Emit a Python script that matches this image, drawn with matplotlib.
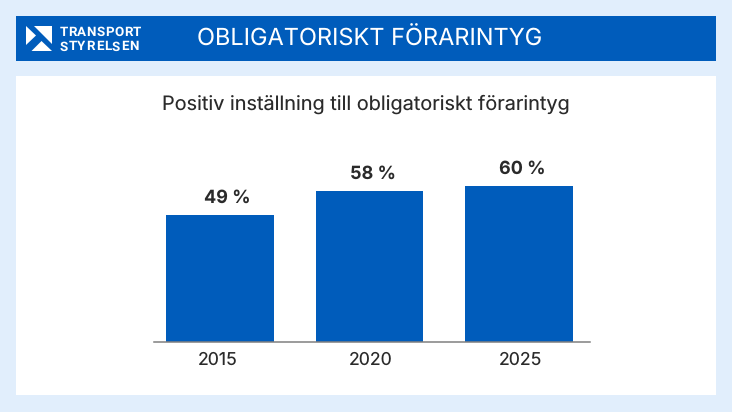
import matplotlib
matplotlib.use("Agg")
import matplotlib.pyplot as plt
from matplotlib.patches import Rectangle, Polygon
from matplotlib.transforms import ScaledTranslation

years = ["2015", "2020", "2025"]
values = [49, 58, 60]
value_labels = ["49 %", "58 %", "60 %"]
title = "OBLIGATORISKT FÖRARINTYG"
subtitle = "Positiv inställning till obligatoriskt förarintyg"
logo_lines = ["TRANSPORT", "STYRELSEN"]

W, H = 732, 412
BG = "#E1EEFC"
BLUE = "#005CBB"
DARK = "#2A2A2A"
plt.rcParams["font.family"] = ["Inter", "DejaVu Sans"]
plt.rcParams["text.hinting"] = "no_hinting"

fig = plt.figure(figsize=(W / 100, H / 100), dpi=100, facecolor=BG)


def fx(x):
    return x / W


def fy(y):
    return 1 - y / H


def frect(x0, y0, x1, y1, color):
    fig.add_artist(Rectangle((fx(x0), fy(y1)), (x1 - x0) / W, (y1 - y0) / H,
                             transform=fig.transFigure, fc=color, ec="none"))


frect(16, 15.5, 716, 60.5, BLUE)
frect(16, 76, 716, 395, "white")

for pts in ([(26, 26), (36, 35.5), (26, 45)],
            [(34, 25.5), (52, 25.5), (52, 43.5)],
            [(31.5, 51), (52, 51), (41.5, 41)]):
    fig.add_artist(Polygon([(fx(a), fy(b)) for a, b in pts], closed=True,
                           transform=fig.transFigure, fc="white", ec="none"))


def spaced(text, x0, x1, baseline, size):
    """Draw a letter-spaced word so that it runs from x0 to x1 (pixels)."""
    renderer = fig.canvas.get_renderer()
    arts = [fig.text(fx(x0), fy(baseline), c, color="white", fontsize=size, fontweight="bold",
                     family="Roboto", va="baseline", ha="left") for c in text]
    widths = [a.get_window_extent(renderer).width for a in arts]
    gap = (x1 - x0 - sum(widths)) / (len(text) - 1)
    pos = x0
    for a, w in zip(arts, widths):
        a.set_x(fx(pos))
        pos += w + gap


spaced(logo_lines[0], 59.5, 141, 36.3, 9.6)
spaced(logo_lines[1], 59.5, 138.5, 50.5, 9.6)

fig.text(fx(197), fy(46), title, color="white", fontsize=16.95, va="baseline", ha="left")
fig.text(fx(365.5), fy(110), subtitle, color=DARK, fontsize=14.3, va="baseline", ha="center")

ax_l, ax_r, ax_t, ax_b = 153.5, 590, 150, 341.5
ax = fig.add_axes([fx(ax_l), fy(ax_b), (ax_r - ax_l) / W, (ax_b - ax_t) / H], zorder=5)
ax.patch.set_alpha(0)
x = list(range(len(years)))
bars = ax.bar(x, values, width=0.72, color=BLUE, zorder=2)
ax.set_xlim((ax_l - 220) / 149.5, (ax_r - 220) / 149.5)
ax.set_ylim(0, (ax_b - ax_t) / 2.59)
for s in ("top", "left", "right"):
    ax.spines[s].set_visible(False)
ax.spines["bottom"].set_color("#808080")
ax.spines["bottom"].set_linewidth(1.1)
ax.set_yticks([])
ax.set_xticks(x)
ax.set_xticklabels(years, fontsize=12.7, color=DARK)
ax.tick_params(axis="x", length=0, pad=7.5)
label_dx = [-2.5, 1, 1]
for lab, dx in zip(ax.get_xticklabels(), label_dx):
    lab.set_transform(lab.get_transform() + ScaledTranslation(dx / 100, 0, fig.dpi_scale_trans))
value_dx = [7.5, 3.8, 3.5]
for rect, txt, dx in zip(bars, value_labels, value_dx):
    ax.annotate(txt, (rect.get_x() + rect.get_width() / 2, rect.get_height()),
                xytext=(dx * 0.72, 6.2), textcoords="offset points", ha="center", va="bottom",
                fontsize=13.0, fontweight="bold", color=DARK)

fig.savefig("out.png", dpi=100, facecolor=BG)
